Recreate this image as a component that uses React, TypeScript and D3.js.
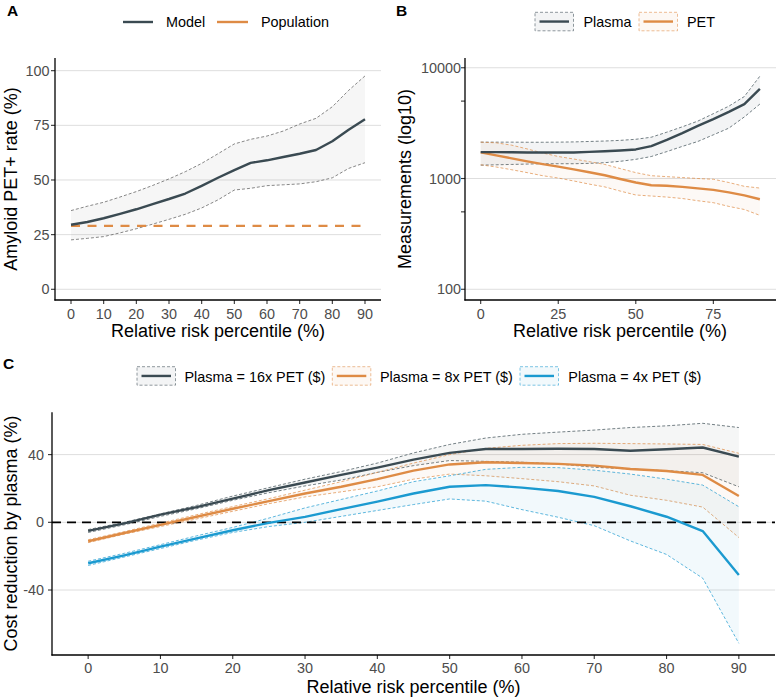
import React from "react";
import * as d3 from "d3";

// ---------- data ----------
const percentiles = [0, 5, 10, 15, 20, 25, 30, 35, 40, 45, 50, 55, 60, 65, 70, 75, 80, 85, 90];

// Panel A: amyloid PET+ rate (%)
const modelRate = [29.5, 30.8, 32.5, 34.5, 36.6, 39.0, 41.3, 43.8, 47.3, 51.0, 54.5, 57.8, 59.0, 60.5, 62.0, 63.7, 67.7, 73.0, 77.8];
const modelUpper = [36.0, 38.0, 39.8, 42.2, 44.7, 47.5, 50.5, 53.8, 57.6, 62.0, 66.5, 68.6, 70.1, 72.4, 75.6, 78.2, 83.5, 91.0, 97.6];
const modelLower = [22.6, 23.3, 24.1, 25.8, 27.7, 29.8, 32.0, 34.3, 37.2, 40.9, 45.4, 46.2, 47.4, 47.8, 48.2, 49.2, 51.0, 55.3, 57.9];
const populationRate = [29, 29, 29, 29, 29, 29, 29, 29, 29, 29, 29, 29, 29, 29, 29, 29, 29, 29, 29];

// Panel B: measurements
const plasmaMeas = [1730, 1730, 1725, 1720, 1715, 1715, 1720, 1740, 1760, 1790, 1830, 1960, 2230, 2570, 2990, 3440, 4000, 4700, 6450];
const plasmaUpper = [2130, 2130, 2130, 2125, 2125, 2130, 2140, 2160, 2180, 2210, 2260, 2360, 2620, 2930, 3300, 3850, 4500, 5500, 8400];
const plasmaLower = [1320, 1330, 1340, 1350, 1360, 1360, 1360, 1370, 1390, 1430, 1490, 1580, 1750, 1950, 2160, 2480, 2850, 3600, 4700];
const petMeas = [1720, 1620, 1520, 1430, 1350, 1280, 1210, 1140, 1070, 990, 920, 870, 860, 840, 815, 790, 750, 705, 650];
const petUpper = [2130, 2100, 2000, 1850, 1700, 1580, 1500, 1420, 1340, 1230, 1130, 1060, 1040, 1020, 1000, 985, 920, 850, 820];
const petLower = [1330, 1270, 1200, 1130, 1060, 1010, 950, 890, 840, 770, 710, 695, 680, 660, 630, 605, 560, 525, 465];

// Panel C: cost reduction by plasma (%)
const cost16 = [-5.1, -0.6, 4.5, 9.0, 14.0, 19.0, 23.5, 28.0, 32.3, 37.0, 41.0, 43.3, 43.3, 43.5, 43.3, 42.3, 43.2, 44.2, 38.8];
const cost16Upper = [-4.3, 0.0, 5.0, 10.0, 15.5, 20.5, 25.5, 30.0, 35.0, 41.0, 46.0, 49.8, 52.0, 53.3, 54.5, 56.0, 57.0, 58.5, 56.0];
const cost16Lower = [-6.0, -1.5, 3.5, 8.0, 13.0, 17.5, 21.5, 25.0, 29.5, 33.5, 36.5, 36.0, 35.5, 34.5, 32.5, 31.5, 30.5, 29.3, 21.0];
const cost8 = [-11.2, -6.3, -1.5, 3.3, 8.0, 12.5, 17.0, 21.0, 25.5, 30.5, 34.2, 35.5, 35.0, 34.5, 33.5, 31.5, 30.3, 28.0, 15.5];
const cost8Upper = [-10.3, -5.5, -0.5, 4.5, 9.3, 14.0, 19.0, 24.0, 29.5, 35.0, 40.0, 43.7, 45.5, 46.5, 46.7, 46.5, 46.3, 46.0, 40.8];
const cost8Lower = [-12.0, -7.0, -2.5, 2.0, 6.5, 11.0, 15.0, 18.0, 21.0, 25.5, 28.5, 27.5, 25.8, 24.0, 21.5, 16.0, 13.0, 9.0, -9.0];
const cost4 = [-24.2, -19.5, -14.4, -9.5, -4.7, -0.3, 3.2, 7.8, 12.2, 17.0, 21.0, 22.0, 20.5, 18.5, 15.0, 9.5, 3.3, -5.2, -31.1];
const cost4Upper = [-23.0, -18.3, -13.2, -8.0, -3.0, 2.5, 8.5, 13.5, 18.5, 24.0, 27.5, 31.3, 32.5, 32.3, 30.8, 28.5, 25.5, 22.0, 9.2];
const cost4Lower = [-25.5, -20.5, -15.5, -10.5, -6.0, -2.5, 0.0, 3.5, 7.0, 10.5, 13.8, 12.5, 7.5, 3.0, -2.0, -11.0, -19.0, -33.0, -71.5];

const ticksA_x = [0, 10, 20, 30, 40, 50, 60, 70, 80, 90];
const ticksA_y = [0, 25, 50, 75, 100];
const ticksB_x = [0, 25, 50, 75];
const ticksB_y = [100, 1000, 10000];
const ticksB_minor = [500, 5000];
const ticksC_x = [0, 10, 20, 30, 40, 50, 60, 70, 80, 90];
const ticksC_y = [-40, 0, 40];

const legendA = ["Model", "Population"];
const legendB = ["Plasma", "PET"];
const legendC = ["Plasma = 16x PET ($)", "Plasma = 8x PET ($)", "Plasma = 4x PET ($)"];

// ---------- styles ----------
const DARK = "#3a4a52";
const ORANGE = "#de8b45";
const BLUE = "#1b9ad0";
const FONT = "'Liberation Sans', Arial, Helvetica, sans-serif";
const TICK_COLOR = "#4d4d4d";
const GRID = "#dedede";

type Sc = (v: number) => number;

function Ribbon({ x, y, lo, hi, color, fill, fillOpacity }: { x: Sc; y: Sc; lo: number[]; hi: number[]; color: string; fill: string; fillOpacity: number }) {
  const area = d3
    .area<number>()
    .x((_, i) => x(percentiles[i]))
    .y0((_, i) => y(lo[i]))
    .y1((_, i) => y(hi[i]));
  const line = (arr: number[]) =>
    d3
      .line<number>()
      .x((_, i) => x(percentiles[i]))
      .y((d) => y(d))(arr) || "";
  return (
    <g>
      <path d={area(lo) || ""} fill={fill} fillOpacity={fillOpacity} stroke="none" />
      <path d={line(hi)} fill="none" stroke={color} strokeWidth={0.7} strokeDasharray="3 2" />
      <path d={line(lo)} fill="none" stroke={color} strokeWidth={0.7} strokeDasharray="3 2" />
    </g>
  );
}

function SeriesLine({ x, y, vals, color, dash }: { x: Sc; y: Sc; vals: number[]; color: string; dash?: string }) {
  const d =
    d3
      .line<number>()
      .x((_, i) => x(percentiles[i]))
      .y((v) => y(v))(vals) || "";
  return <path d={d} fill="none" stroke={color} strokeWidth={2.4} strokeDasharray={dash} strokeLinejoin="round" />;
}

function Axes({
  x, y, x0, x1, y0, y1, xt, yt, labelEndX, xLabelY, minorY,
}: {
  x: Sc; y: Sc; x0: number; x1: number; y0: number; y1: number; xt: number[]; yt: number[];
  labelEndX: number; xLabelY: number; minorY?: number[];
}) {
  return (
    <g>
      {xt.map((t) => (
        <g key={"xt" + t}>
          <line x1={x(t)} x2={x(t)} y1={y1} y2={y1 + 4} stroke="#333" strokeWidth={1.1} />
          <text x={x(t)} y={xLabelY} textAnchor="middle" fontSize={14.4} fill={TICK_COLOR} fontFamily={FONT}>
            {t}
          </text>
        </g>
      ))}
      {yt.map((t) => (
        <g key={"yt" + t}>
          <line x1={x0 - 4} x2={x0} y1={y(t)} y2={y(t)} stroke="#333" strokeWidth={1.1} />
          <text x={labelEndX} y={y(t) + 5} textAnchor="end" fontSize={14.4} fill={TICK_COLOR} fontFamily={FONT}>
            {t}
          </text>
        </g>
      ))}
      {(minorY || []).map((t) => (
        <line key={"my" + t} x1={x0 - 4} x2={x0} y1={y(t)} y2={y(t)} stroke="#333" strokeWidth={1.1} />
      ))}
      <line x1={x0} x2={x0} y1={y0} y2={y1 + 0.6} stroke="#000" strokeWidth={1.3} />
      <line x1={x0 - 0.6} x2={x1} y1={y1} y2={y1} stroke="#000" strokeWidth={1.3} />
    </g>
  );
}

function Grid({ y, vals, x0, x1 }: { y: Sc; vals: number[]; x0: number; x1: number }) {
  return (
    <g>
      {vals.map((v) => (
        <line key={v} x1={x0} x2={x1} y1={y(v)} y2={y(v)} stroke={GRID} strokeWidth={1} />
      ))}
    </g>
  );
}

function KeyBox({ x, y, color }: { x: number; y: number; color: string }) {
  return (
    <g>
      <rect x={x} y={y} width={38.5} height={18.5} fill={color} fillOpacity={0.06} stroke={color} strokeOpacity={0.8} strokeWidth={0.7} strokeDasharray="3 2" />
      <line x1={x + 4.5} x2={x + 34} y1={y + 9.25} y2={y + 9.25} stroke={color} strokeWidth={2.4} />
    </g>
  );
}

export default function App() {
  // Panel A
  const xA = d3.scaleLinear().domain([-4.9, 94.9]).range([55, 381]);
  const yA = d3.scaleLinear().domain([-4.9, 105.8]).range([300, 58]);
  // Panel B
  const xB = d3.scaleLinear().domain([-5.06, 95.2]).range([465, 776]);
  const yB = d3.scaleLog().domain([80, 12250]).range([300, 58]);
  // Panel C
  const xC = d3.scaleLinear().domain([-5, 95]).range([52, 775]);
  const yC = d3.scaleLinear().domain([-78.4, 65]).range([655, 412.3]);

  const tStyle = { fontFamily: FONT, fill: "#000" } as const;

  return (
    <svg width={777} height={698} style={{ position: "absolute", left: 0, top: 0, background: "#fff" }}>
      <rect width={777} height={698} fill="#fff" />

      {/* Panel tags */}
      <text x={7} y={15.5} fontSize={15.5} fontWeight="bold" {...tStyle}>A</text>
      <text x={396} y={15.5} fontSize={15.5} fontWeight="bold" {...tStyle}>B</text>
      <text x={3} y={369} fontSize={15.5} fontWeight="bold" {...tStyle}>C</text>

      {/* ---------------- Panel A ---------------- */}
      <g>
        <line x1={123} x2={153} y1={22} y2={22} stroke={DARK} strokeWidth={2.4} />
        <text x={166} y={27} fontSize={14.4} {...tStyle}>{legendA[0]}</text>
        <line x1={217} x2={248} y1={22} y2={22} stroke={ORANGE} strokeWidth={2.4} />
        <text x={261} y={27} fontSize={14.4} {...tStyle}>{legendA[1]}</text>

        <Grid y={yA} vals={ticksA_y} x0={55} x1={381} />
        <Ribbon x={xA} y={yA} lo={modelLower} hi={modelUpper} color="#555" fill="#888" fillOpacity={0.08} />
        <SeriesLine x={xA} y={yA} vals={populationRate} color={ORANGE} dash="9 7.5" />
        <SeriesLine x={xA} y={yA} vals={modelRate} color={DARK} />
        <Axes x={xA} y={yA} x0={55} x1={381} y0={58} y1={300} xt={ticksA_x} yt={ticksA_y} labelEndX={49.5} xLabelY={318.5} />
        <text x={218} y={337} textAnchor="middle" fontSize={18} {...tStyle}>Relative risk percentile (%)</text>
        <text transform="translate(17,179) rotate(-90)" textAnchor="middle" fontSize={18} {...tStyle}>Amyloid PET+ rate (%)</text>
      </g>

      {/* ---------------- Panel B ---------------- */}
      <g>
        <KeyBox x={535} y={12.3} color={DARK} />
        <text x={583.5} y={27} fontSize={14.4} {...tStyle}>{legendB[0]}</text>
        <KeyBox x={639} y={12.3} color={ORANGE} />
        <text x={687} y={27} fontSize={14.4} {...tStyle}>{legendB[1]}</text>

        <Grid y={yB} vals={ticksB_y} x0={465} x1={776} />
        <Ribbon x={xB} y={yB} lo={plasmaLower} hi={plasmaUpper} color={DARK} fill={DARK} fillOpacity={0.06} />
        <Ribbon x={xB} y={yB} lo={petLower} hi={petUpper} color={ORANGE} fill={ORANGE} fillOpacity={0.05} />
        <SeriesLine x={xB} y={yB} vals={petMeas} color={ORANGE} />
        <SeriesLine x={xB} y={yB} vals={plasmaMeas} color={DARK} />
        <Axes x={xB} y={yB} x0={465} x1={776} y0={58} y1={300} xt={ticksB_x} yt={ticksB_y} labelEndX={461} xLabelY={318.5} minorY={ticksB_minor} />
        <text x={620} y={337} textAnchor="middle" fontSize={18} {...tStyle}>Relative risk percentile (%)</text>
        <text transform="translate(411,179) rotate(-90)" textAnchor="middle" fontSize={18} {...tStyle}>Measurements (log10)</text>
      </g>

      {/* ---------------- Panel C ---------------- */}
      <g>
        <KeyBox x={137} y={366.7} color={DARK} />
        <text x={184.5} y={381.5} fontSize={14.4} {...tStyle}>{legendC[0]}</text>
        <KeyBox x={332.3} y={366.7} color={ORANGE} />
        <text x={380} y={381.5} fontSize={14.4} {...tStyle}>{legendC[1]}</text>
        <KeyBox x={520} y={366.7} color={BLUE} />
        <text x={568.3} y={381.5} fontSize={14.4} {...tStyle}>{legendC[2]}</text>

        <Grid y={yC} vals={ticksC_y} x0={52} x1={775} />
        <Ribbon x={xC} y={yC} lo={cost16Lower} hi={cost16Upper} color={DARK} fill={DARK} fillOpacity={0.05} />
        <Ribbon x={xC} y={yC} lo={cost8Lower} hi={cost8Upper} color={ORANGE} fill={ORANGE} fillOpacity={0.05} />
        <Ribbon x={xC} y={yC} lo={cost4Lower} hi={cost4Upper} color={BLUE} fill={BLUE} fillOpacity={0.06} />
        <line x1={52} x2={775} y1={yC(0)} y2={yC(0)} stroke="#000" strokeWidth={1.8} strokeDasharray="9 6" />
        <SeriesLine x={xC} y={yC} vals={cost4} color={BLUE} />
        <SeriesLine x={xC} y={yC} vals={cost8} color={ORANGE} />
        <SeriesLine x={xC} y={yC} vals={cost16} color={DARK} />
        <Axes x={xC} y={yC} x0={52} x1={775} y0={412.3} y1={655} xt={ticksC_x} yt={ticksC_y} labelEndX={44} xLabelY={673} />
        <text x={413.5} y={693} textAnchor="middle" fontSize={18} {...tStyle}>Relative risk percentile (%)</text>
        <text transform="translate(17,533.5) rotate(-90)" textAnchor="middle" fontSize={18} {...tStyle}>Cost reduction by plasma (%)</text>
      </g>
    </svg>
  );
}
